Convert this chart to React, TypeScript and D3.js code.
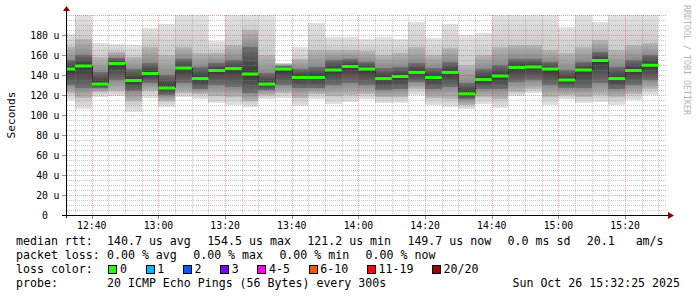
import React from 'react';
import * as d3 from 'd3';

// ---- data (values in microseconds), one entry per 5-minute step ----
const pingMin = [115,106,118,119,103.5,117,108.5,118,116,112,110,108,116,117,109,116,111,113.5,116,112,112.5,120,110,108.5,106,111,107.5,119,122,110,116,112.5,113.5,110,115,120];
const pingP15 = [122,117,123,124,114,124,114,122,121,119,118,114,120,122,117,121,119,120,121,118,118,126,117,116,110,118,116,123,126,118,120,118,120,118,121,126];
const pingP30 = [130,127,127,135,124,132,120,132,126,130,128,122,125,130,127,127,130,132,130,125,126,133,126,128,116,126,126,133,135,130,127,127,132,126,130,135];
const pingMedian = [146,149,131,151.5,134.5,141.5,127,147,136.5,144.5,146.5,141,131,146,137.5,137.5,145,148.5,146,136.5,138.5,142.5,137.5,142.5,121.2,135.5,139,147.5,148,146,135,145,154.5,136.5,144.5,149.7];
const pingP70 = [155,160,143,157,146,152,140,156,148,152,155,168,142,149,146,148,155,156,153,147,148,152,147,153,132,146,150,156,156,153,145,153,163,148,155,160];
const pingP85 = [168,176,158,163,158,168,160,168,162,162,170,185,160,151,156,165,165,165,164,160,162,168,160,167,150,160,168,170,170,165,162,168,175,165,170,172];
const pingMax = [181,200,172,171,170,187,191,200,200,174,200,200,200,152.5,168.5,192,178.5,178.5,176,178,176,193.5,177,191,180,182.5,200,200,200,200,188.5,200,193.5,200,200,200];

// time axis in minutes after midnight
const startMin = 12 * 60 + 32 + 25 / 60; // 12:32:25
const endMin = 15 * 60 + 32 + 25 / 60;   // 15:32:25
const firstStepEnd = 12 * 60 + 35;       // 12:35
const stepMin = 5;

const yTicksMajor = [0, 20, 40, 60, 80, 100, 120, 140, 160, 180];
const xTickLabels = ['12:40', '13:00', '13:20', '13:40', '14:00', '14:20', '14:40', '15:00', '15:20'];

const medianItems = ['140.7 us avg', '154.5 us max', '121.2 us min', '149.7 us now', '0.0 ms sd', '20.1   am/s'];
const lossItems = ['0.00 % avg', '0.00 % max', '0.00 % min', '0.00 % now'];
const lossLabels = ['0', '1', '2', '3', '4-5', '6-10', '11-19', '20/20'];
const lossColors = ['#26ff00', '#00b8ff', '#0059ff', '#7e00ff', '#ff00ff', '#ff5500', '#ff0000', '#a10000'];
const probeText = '20 ICMP Echo Pings (56 Bytes) every 300s';
const dateText = 'Sun Oct 26 15:32:25 2025';

const W = 697;
const H = 297;
const mono = "'DejaVu Sans Mono', monospace";
const nb = (s: string) => s.replace(/ /g, '\u00a0');

export default function App() {
  const x = d3.scaleLinear().domain([startMin, endMin]).range([66.5, 666.5]);
  const y = d3.scaleLinear().domain([0, 200]).range([215, 15]);
  const left = 66.5, right = 666.5, top = 15, bottom = 215;

  const bars = pingMedian.map((m, i) => {
    const te = firstStepEnd + i * stepMin;
    const ts = Math.max(te - stepMin, startMin);
    return { x0: x(ts), x1: x(te), i };
  });

  const minorY = d3.range(5, 201, 5).filter((v) => v % 20 !== 0);
  const majorY = d3.range(0, 201, 20).filter((v) => v > 0);
  const minorX = d3.range(firstStepEnd, endMin, 5).filter((t) => t % 20 !== 0);
  const majorX = xTickLabels.map((l) => {
    const [h, m] = l.split(':').map(Number);
    return h * 60 + m;
  });

  const px = (v: number) => Math.round(v) + 0.5;
  const minorColor = 'rgba(130,130,130,0.45)';
  const majorColor = 'rgba(235,50,50,0.45)';

  // bands: [low, high, gradient id]
  const bands: [number[], number[], string][] = [
    [pingP85, pingMax, 'gUo'],
    [pingP70, pingP85, 'gUm'],
    [pingMedian, pingP70, 'gUi'],
    [pingP30, pingMedian, 'gLi'],
    [pingP15, pingP30, 'gLm'],
    [pingMin, pingP15, 'gLo'],
  ];
  const grads: [string, string, string][] = [
    ['gUo', '#e3e3e3', '#cbcbcb'],
    ['gUm', '#b8b8b8', '#8a8a8a'],
    ['gUi', '#707070', '#363636'],
    ['gLi', '#363636', '#707070'],
    ['gLm', '#8a8a8a', '#b8b8b8'],
    ['gLo', '#cbcbcb', '#e3e3e3'],
  ];

  const cw = 6.97;
  const gap = 16.5;
  let cx = 107;
  const medPos = medianItems.map((s) => { const p = cx; cx += s.length * cw + gap; return p; });
  cx = 107;
  const lossPos = lossItems.map((s) => { const p = cx; cx += s.length * cw + gap; return p; });
  cx = 108.3;
  const boxPos = lossLabels.map((s) => { const p = cx; cx += 11.7 + s.length * cw + 18.6; return p; });

  const fs = 11.6;

  return (
    <svg width={W} height={H} style={{ position: 'absolute', left: 0, top: 0 }} xmlns="http://www.w3.org/2000/svg">
      <defs>
        <clipPath id="plotclip">
          <rect x={left} y={top} width={right - left} height={bottom - top} />
        </clipPath>
        {grads.map(([id, c0, c1]) => (
          <linearGradient key={id} id={id} x1="0" y1="0" x2="0" y2="1">
            <stop offset="0" stopColor={c0} />
            <stop offset="1" stopColor={c1} />
          </linearGradient>
        ))}
      </defs>
      <rect x={0} y={0} width={W} height={H} fill="#ffffff" />

      {/* smoke */}
      <g clipPath="url(#plotclip)">
        {bands.map(([lo, hi, gid]) => (
          <g key={gid}>
            {bars.map((b) => {
              const h = y(lo[b.i]) - y(hi[b.i]);
              return h > 0 ? (
                <rect key={b.i} x={b.x0} y={y(hi[b.i])} width={b.x1 - b.x0} height={h} fill={`url(#${gid})`} shapeRendering="crispEdges" />
              ) : null;
            })}
          </g>
        ))}
        {/* dark step connectors */}
        {bars.slice(1).map((b) => (
          <line key={b.i} x1={px(b.x0)} x2={px(b.x0)} y1={y(pingMedian[b.i - 1])} y2={y(pingMedian[b.i])} stroke="#202020" strokeWidth={1} />
        ))}
      </g>

      {/* grid */}
      <g shapeRendering="crispEdges">
        {minorY.map((v) => (
          <line key={'my' + v} x1={left} x2={right} y1={px(y(v))} y2={px(y(v))} stroke={minorColor} strokeDasharray="1,1" />
        ))}
        {minorX.map((t) => (
          <line key={'mx' + t} x1={px(x(t))} x2={px(x(t))} y1={top} y2={bottom} stroke={minorColor} strokeDasharray="1,1" />
        ))}
        {majorY.map((v) => (
          <line key={'My' + v} x1={left} x2={right} y1={px(y(v))} y2={px(y(v))} stroke={majorColor} strokeDasharray="1,1" />
        ))}
        {majorX.map((t) => (
          <line key={'Mx' + t} x1={px(x(t))} x2={px(x(t))} y1={top} y2={bottom} stroke={majorColor} strokeDasharray="1,1" />
        ))}
      </g>

      {/* median */}
      <g clipPath="url(#plotclip)">
        {bars.map((b) => (
          <line key={b.i} x1={b.x0} x2={b.x1} y1={y(pingMedian[b.i])} y2={y(pingMedian[b.i])} stroke={lossColors[0]} strokeWidth={3} />
        ))}
      </g>

      {/* axes */}
      <g shapeRendering="crispEdges">
        {yTicksMajor.map((v) => (
          <line key={'yt' + v} x1={62} x2={66} y1={px(y(v))} y2={px(y(v))} stroke="#909090" />
        ))}
        {majorX.map((t) => (
          <line key={'xt' + t} x1={px(x(t))} x2={px(x(t))} y1={216} y2={219} stroke="#909090" />
        ))}
        <line x1={66.5} x2={66.5} y1={bottom + 3} y2={10} stroke="#000" />
        <line x1={62} x2={668} y1={215.5} y2={215.5} stroke="#000" />
      </g>
      <path d="M63,11 L70,11 L66.5,6 Z" fill="#8b0000" />
      <path d="M668,212 L668,219 L674,215.5 Z" fill="#8b0000" />

      {/* y labels */}
      <g fontFamily={mono} fontSize={9.8} fill="#000">
        {yTicksMajor.map((v) => (
          <g key={'yl' + v}>
            <text x={48} y={y(v) + 3.6} textAnchor="end">{String(v)}</text>
            {v !== 0 && <text x={53.5} y={y(v) + 3.6}>u</text>}
          </g>
        ))}
        {xTickLabels.map((l, i) => (
          <text key={l} x={x(majorX[i])} y={229} textAnchor="middle">{l}</text>
        ))}
      </g>

      <text transform="translate(15,115) rotate(-90)" textAnchor="middle" fontFamily={mono} fontSize={11.2} fill="#000">Seconds</text>

      <text transform="translate(684,5) rotate(90)" fontFamily={mono} fontSize={8.3} fill="#b4b4b4">RRDTOOL / TOBI OETIKER</text>

      {/* legend */}
      <g fontFamily={mono} fontSize={fs} fill="#000">
        <text x={16} y={244.5}>median rtt:</text>
        {medianItems.map((s, i) => (
          <text key={'m' + i} x={medPos[i]} y={244.5}>{nb(s)}</text>
        ))}
        <text x={16} y={258.5}>packet loss:</text>
        {lossItems.map((s, i) => (
          <text key={'l' + i} x={lossPos[i]} y={258.5}>{nb(s)}</text>
        ))}
        <text x={16} y={272.5}>loss color:</text>
        {lossLabels.map((s, i) => (
          <g key={'c' + i}>
            <rect x={Math.round(boxPos[i]) + 0.5} y={265.5} width={8} height={8} fill={lossColors[i]} stroke="#000" strokeWidth={1} shapeRendering="crispEdges" />
            <text x={boxPos[i] + 11.7} y={272.5}>{s}</text>
          </g>
        ))}
        <text x={16} y={287}>probe:</text>
        <text x={107} y={287}>{probeText}</text>
        <text x={680} y={287} textAnchor="end">{dateText}</text>
      </g>
    </svg>
  );
}
